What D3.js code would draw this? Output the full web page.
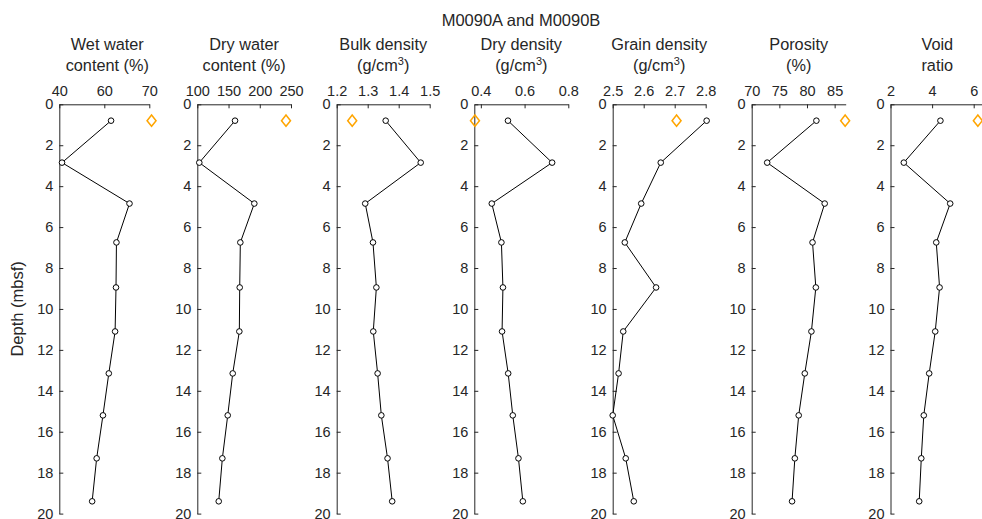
<!DOCTYPE html>
<html>
<head>
<meta charset="utf-8">
<script src="https://cdn.jsdelivr.net/npm/d3@7/dist/d3.min.js"></script>
<style>
  html, body { margin: 0; padding: 0; background: #fff; }
  svg { display: block; font-family: "Liberation Sans", Arial, sans-serif; }
  .axis path, .axis line { stroke: #262626; stroke-width: 1; }
  .axis text { fill: #262626; font-size: 14.5px; font-family: "Liberation Sans", Arial, sans-serif; }
</style>
</head>
<body>
<svg id="chart" width="982" height="519"></svg>
<script>
// Sample depths (mbsf) for the M0090A profile
const depths = [0.8, 2.85, 4.85, 6.75, 8.95, 11.1, 13.15, 15.2, 17.3, 19.4];
// Single M0090B sample depth
const depthB = [0.8];

// M0090A profiles
const wetWater   = [61.5, 50.6, 65.6, 62.7, 62.6, 62.4, 61.0, 59.7, 58.3, 57.3];
const dryWater   = [160.4, 103.2, 191.3, 168.9, 167.9, 167.3, 156.7, 148.7, 140.1, 134.3];
const bulkDens   = [1.358, 1.471, 1.292, 1.317, 1.328, 1.318, 1.332, 1.344, 1.364, 1.379];
const dryDens    = [0.524, 0.726, 0.450, 0.494, 0.501, 0.497, 0.525, 0.546, 0.572, 0.592];
const grainDens  = [2.803, 2.655, 2.592, 2.539, 2.640, 2.534, 2.519, 2.500, 2.542, 2.568];
const porosity   = [81.7, 72.8, 83.2, 81.0, 81.6, 80.8, 79.6, 78.5, 77.8, 77.3];
const voidRatio  = [4.40, 2.64, 4.87, 4.20, 4.36, 4.15, 3.86, 3.60, 3.48, 3.38];

// M0090B values, same order as the panels
const valuesB = [70.5, 242, 1.25, 0.373, 2.706, 86.9, 6.2];

// Panel titles (second line may carry a superscript)
const titles = [
  ["Wet water", "content (%)"],
  ["Dry water", "content (%)"],
  ["Bulk density", "(g/cm", "3", ")"],
  ["Dry density", "(g/cm", "3", ")"],
  ["Grain density", "(g/cm", "3", ")"],
  ["Porosity", "(%)"],
  ["Void", "ratio"]
];

// Top-axis tick positions and their labels
const xTickValues = [
  [50, 60, 70],
  [100, 150, 200, 250],
  [1.2, 1.3, 1.4, 1.5],
  [0.4, 0.6, 0.8],
  [2.5, 2.6, 2.7, 2.8],
  [70, 75, 80, 85],
  [2, 4, 6]
];
const xTickLabels = [
  ["40", "60", "70"],
  ["100", "150", "200", "250"],
  ["1.2", "1.3", "1.4", "1.5"],
  ["0.4", "0.6", "0.8"],
  ["2.5", "2.6", "2.7", "2.8"],
  ["70", "75", "80", "85"],
  ["2", "4", "6"]
];
const depthTicks = [0, 2, 4, 6, 8, 10, 12, 14, 16, 18, 20];

const mainTitle = "M0090A and M0090B";
const depthTitle = "Depth (mbsf)";

const series = [wetWater, dryWater, bulkDens, dryDens, grainDens, porosity, voidRatio];

// Axis limits and geometry for each panel
const domains = [[50, 70], [100, 250], [1.2, 1.5], [0.37, 0.8], [2.5, 2.8], [70, 87], [2, 6.5]];
const widths  = [90, 93.7, 93, 94, 93, 94, 93.6];
const lefts   = [59.3, 197.3, 336.7, 474.3, 612.7, 751.7, 890.5];

const plotTop = 104.3, plotBottom = 513.6;
const svg = d3.select("#chart");

const y = d3.scaleLinear().domain([0, 20]).range([plotTop, plotBottom]);

svg.append("text")
  .attr("x", 521).attr("y", 26)
  .attr("text-anchor", "middle")
  .attr("font-size", 16.5).attr("fill", "#262626")
  .text(mainTitle);

svg.append("text")
  .attr("transform", `translate(23,${(plotTop + plotBottom) / 2}) rotate(-90)`)
  .attr("text-anchor", "middle")
  .attr("font-size", 16.5).attr("fill", "#262626")
  .text(depthTitle);

series.forEach((vals, i) => {
  const x = d3.scaleLinear().domain(domains[i]).range([0, widths[i]]);
  const g = svg.append("g").attr("transform", `translate(${lefts[i]},0)`);

  // panel title
  const cx = i === 0 ? 48 : widths[i] / 2;
  const t = titles[i];
  g.append("text")
    .attr("x", cx).attr("y", 50)
    .attr("text-anchor", "middle").attr("font-size", 16.3).attr("fill", "#262626")
    .text(t[0]);
  const l2 = g.append("text")
    .attr("x", cx).attr("y", 71)
    .attr("text-anchor", "middle").attr("font-size", 16.3).attr("fill", "#262626");
  l2.append("tspan").text(t[1]);
  if (t.length > 2) {
    l2.append("tspan").attr("dy", -6).attr("font-size", 11).text(t[2]);
    l2.append("tspan").attr("dy", 6).text(t[3]);
  }

  // top axis
  const labels = xTickLabels[i];
  const tv = xTickValues[i];
  g.append("g").attr("class", "axis")
    .attr("transform", `translate(0,${plotTop})`)
    .call(d3.axisTop(x)
      .tickValues(tv)
      .tickFormat((d, k) => labels[k])
      .tickSizeInner(-4).tickSizeOuter(0).tickPadding(8));

  // left depth axis
  g.append("g").attr("class", "axis")
    .call(d3.axisLeft(y)
      .tickValues(depthTicks)
      .tickFormat(d3.format("d"))
      .tickSizeInner(-4).tickSizeOuter(0).tickPadding(6));

  const pts = vals.map((v, k) => ({ v, d: depths[k] }));

  g.append("path")
    .datum(pts)
    .attr("fill", "none").attr("stroke", "#000").attr("stroke-width", 1)
    .attr("d", d3.line().x(p => x(p.v)).y(p => y(p.d)));

  g.selectAll("circle.a").data(pts).enter().append("circle")
    .attr("class", "a")
    .attr("cx", p => x(p.v)).attr("cy", p => y(p.d))
    .attr("r", 2.8)
    .attr("fill", "#fff").attr("stroke", "#000").attr("stroke-width", 1);

  // M0090B diamond
  g.selectAll("path.b").data(depthB).enter().append("path")
    .attr("class", "b")
    .attr("transform", d => `translate(${x(valuesB[i])},${y(d)})`)
    .attr("d", "M0,-5.6L4.5,0L0,5.6L-4.5,0Z")
    .attr("fill", "none").attr("stroke", "#ffa500").attr("stroke-width", 1.5);
});
</script>
</body>
</html>
